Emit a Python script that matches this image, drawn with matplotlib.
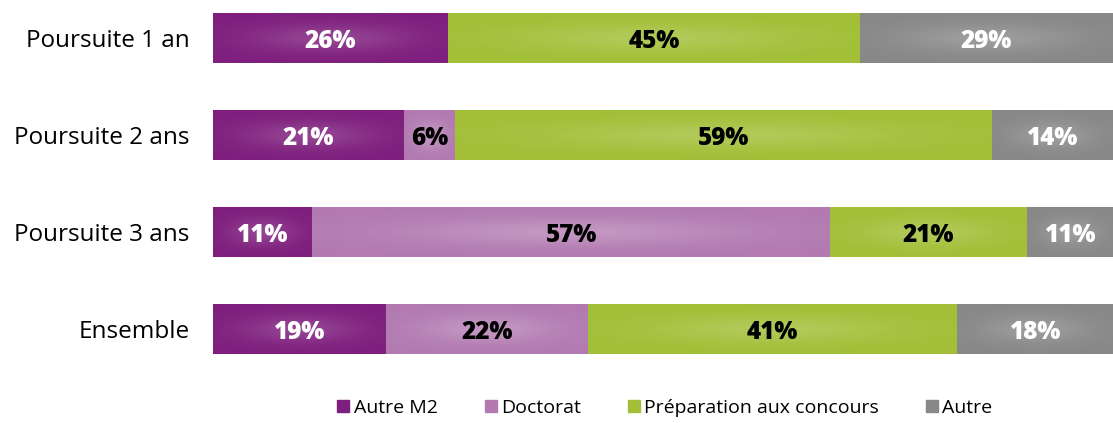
import matplotlib
matplotlib.use("Agg")
import matplotlib.pyplot as plt
import numpy as np
from matplotlib.colors import to_rgb
from matplotlib.lines import Line2D

# rows top to bottom
groups = ["Poursuite 1 an", "Poursuite 2 ans", "Poursuite 3 ans", "Ensemble"]
series = ["Autre M2", "Doctorat", "Préparation aux concours", "Autre"]

# segment shares as drawn
autre_m2 = [26.1, 21.2, 11.0, 19.2]
doctorat = [0.0, 5.7, 57.6, 22.5]
preparation = [45.8, 59.7, 21.8, 41.0]
autre = [28.1, 13.4, 9.7, 17.3]

# printed labels
lab_autre_m2 = ["26%", "21%", "11%", "19%"]
lab_doctorat = ["", "6%", "57%", "22%"]
lab_preparation = ["45%", "59%", "21%", "41%"]
lab_autre = ["29%", "14%", "11%", "18%"]

colors = ["#7e1f7d", "#b27ab1", "#a2bf37", "#888888"]
text_colors = ["white", "black", "black", "white"]
glow = [0.17, 0.22, 0.17, 0.18]

plt.rcParams["font.family"] = ["Open Sans", "DejaVu Sans"]

fig = plt.figure(figsize=(11.13, 4.23), dpi=100)
ax = fig.add_axes([213 / 1113, 1 - 368 / 423, 900 / 1113, 368 / 423])

values = [autre_m2, doctorat, preparation, autre]
labels = [lab_autre_m2, lab_doctorat, lab_preparation, lab_autre]
ypos = np.arange(len(groups))
left = np.zeros(len(groups))
height = 0.515

# soft centre highlight used on every segment
gu, gv = np.meshgrid(np.linspace(-1, 1, 200), np.linspace(-1, 1, 60))
profile = np.exp(-(gu ** 2 / 0.45 + gv ** 2 / 0.3))

for vals, labs, col, tcol, g in zip(values, labels, colors, text_colors, glow):
    bars = ax.barh(ypos, vals, left=left, height=height, color=col,
                   edgecolor="none", zorder=1)
    base = np.array(to_rgb(col))
    img = base + (1 - base) * (g * profile)[..., None]
    for rect, lab in zip(bars, labs):
        w = rect.get_width()
        if w <= 0:
            continue
        x0, y0, h = rect.get_x(), rect.get_y(), rect.get_height()
        ax.imshow(img, extent=(x0, x0 + w, y0 + h, y0), aspect="auto",
                  interpolation="bilinear", zorder=2)
        if lab:
            ax.text(x0 + w / 2, y0 + h / 2, lab, ha="center",
                    va="center_baseline", color=tcol, fontsize=17.5,
                    fontweight="heavy", zorder=3)
    left += np.array(vals)

ax.set_xlim(0, 100)
ax.set_ylim(3.402, -0.392)
ax.set_yticks(ypos)
ax.set_yticklabels(groups, fontsize=17.5, va="center_baseline")
ax.set_xticks([])
ax.tick_params(axis="y", length=0, pad=17)
for s in ax.spines.values():
    s.set_visible(False)

handles = [Line2D([], [], marker="s", ls="none", color=c, markersize=9)
           for c in colors]
ax.legend(handles, series, loc="upper center", bbox_to_anchor=(0.5, -0.048),
          ncol=4, frameon=False, fontsize=14, handletextpad=0.05,
          columnspacing=2.2, handlelength=1.0, borderaxespad=0.3)

fig.savefig("out.png", dpi=100)
